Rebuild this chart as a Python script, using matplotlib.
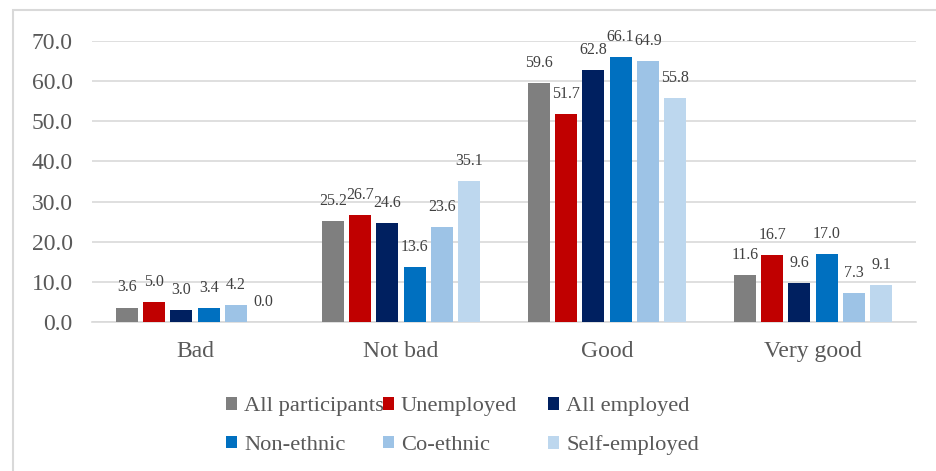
import matplotlib.pyplot as plt
from matplotlib.patches import Rectangle
import numpy as np

plt.rcParams["font.family"] = ["Liberation Serif", "DejaVu Serif"]

# data
categories = ["Bad", "Not bad", "Good", "Very good"]
series = ["All participants", "Unemployed", "All employed",
          "Non-ethnic", "Co-ethnic", "Self-employed"]
all_participants = [3.6, 25.2, 59.6, 11.6]
unemployed = [5.0, 26.7, 51.7, 16.7]
all_employed = [3.0, 24.6, 62.8, 9.6]
non_ethnic = [3.4, 13.6, 66.1, 17.0]
co_ethnic = [4.2, 23.6, 64.9, 7.3]
self_employed = [0.0, 35.1, 55.8, 9.1]

values = [all_participants, unemployed, all_employed,
          non_ethnic, co_ethnic, self_employed]
colors = ["#7F7F7F", "#C00000", "#002060", "#0070C0", "#9DC3E6", "#BDD7EE"]

fig = plt.figure(figsize=(9.36, 4.71), dpi=100)
ax = fig.add_axes([92 / 936, 1 - 322 / 471, 824 / 936, 281 / 471])

x = np.arange(len(categories))
step = 0.1325
width = 0.107
handles = []
for i, (name, vals, col) in enumerate(zip(series, values, colors)):
    bars = ax.bar(x + (i - 2.5) * step, vals, width, color=col, label=name,
                  zorder=3)
    handles.append(bars)
    for b, v in zip(bars, vals):
        ax.annotate(f"{v:.1f}", (b.get_x() + b.get_width() / 2, v),
                    textcoords="offset points", xytext=(0, 14.5),
                    ha="center", va="center", fontsize=11.5, color="#404040")

ax.set_xlim(-0.5, 3.5)
ax.set_ylim(0, 70)
ax.set_yticks(np.arange(0, 71, 10))
ax.set_yticklabels([f"{t:.1f}" for t in np.arange(0, 71, 10)])
ax.set_xticks(x)
ax.set_xticklabels(categories)
ax.tick_params(length=0, labelsize=17, colors="#595959")
ax.tick_params(axis="y", pad=14)
ax.tick_params(axis="x", pad=14)
ax.grid(axis="y", color="#D9D9D9", linewidth=1.2, zorder=0)
for s in ["top", "right", "left"]:
    ax.spines[s].set_visible(False)
ax.spines["bottom"].set_color("#D9D9D9")
ax.spines["bottom"].set_linewidth(1.2)

# legend: three fixed-width columns, two rows, filled row-wise
col_x = [226, 383, 548]
for c in range(3):
    idx = [c, c + 3]
    leg = fig.legend([handles[k] for k in idx], [series[k] for k in idx],
                     loc="upper left",
                     bbox_to_anchor=(col_x[c] / 936, 1 - 397 / 471),
                     frameon=False, fontsize=16.2, handlelength=0.5,
                     handleheight=0.5, handletextpad=0.3, labelspacing=0.85,
                     borderaxespad=0, borderpad=0)
    for t in leg.get_texts():
        t.set_color("#595959")

# outer chart border
fig.add_artist(Rectangle((13 / 936, -0.1), 1.2, 1.1 - 10 / 471,
                         transform=fig.transFigure, fill=False,
                         edgecolor="#D9D9D9", linewidth=1.5))

fig.savefig("out.png", dpi=100)
